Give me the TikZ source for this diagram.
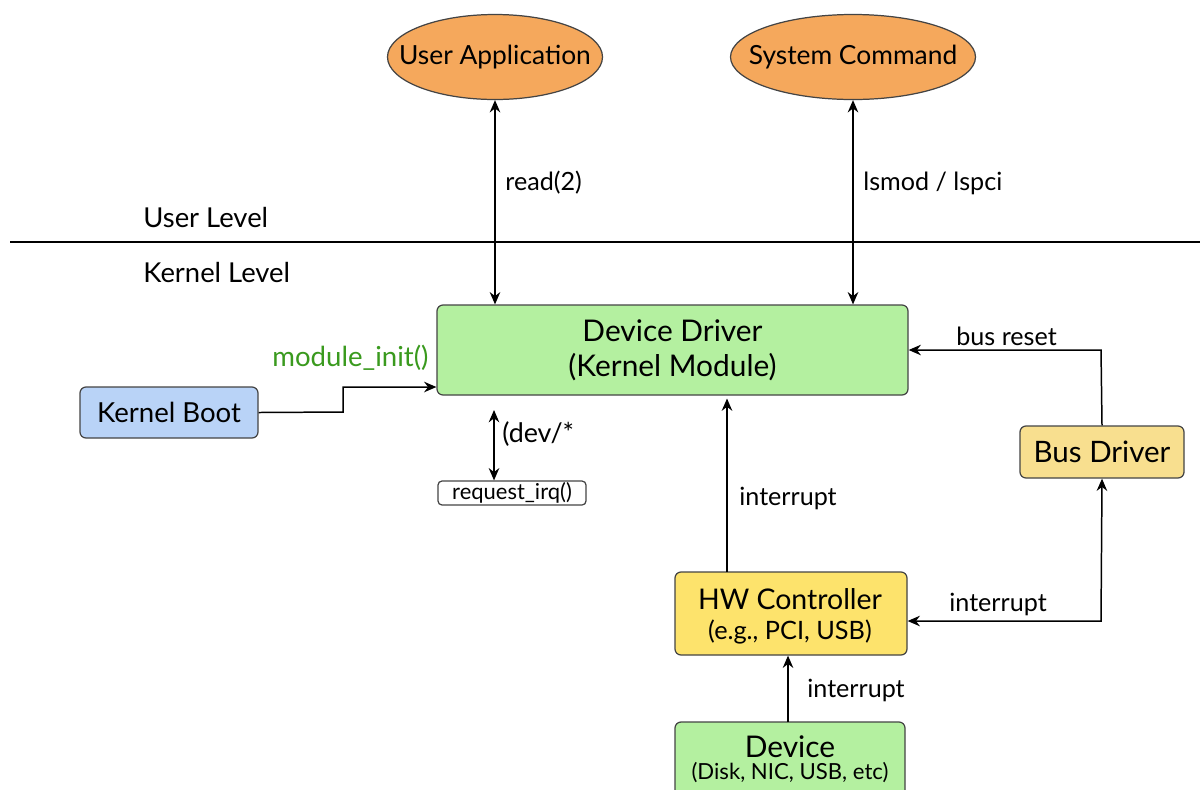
\documentclass[tikz,border=0pt]{standalone}
\usepackage{fontspec}
\setmainfont{Lato}
\usetikzlibrary{arrows.meta,shapes.geometric,calc}
\definecolor{uorange}{HTML}{F5A85C}
\definecolor{dgreen}{HTML}{B4F0A0}
\definecolor{kblue}{HTML}{B9D3F7}
\definecolor{hwyellow}{HTML}{FDE36C}
\definecolor{busyellow}{HTML}{F8DF8F}
\definecolor{initgreen}{HTML}{3A9A1E}
\definecolor{edge}{HTML}{444444}
\tikzset{
  box/.style={draw=edge, line width=0.7pt, rounded corners=0.12cm, align=center, inner sep=0pt},
  oval/.style={ellipse, draw=edge, line width=0.7pt, fill=uorange, inner sep=0pt},
  ovaltext/.style={inner sep=0pt, font=\fontsize{15}{18}\selectfont},
  conn/.style={line width=0.85pt, -{Stealth[length=7pt,width=6pt]}},
  conn2/.style={line width=0.85pt, {Stealth[length=7pt,width=6pt]}-{Stealth[length=7pt,width=6pt]}},
  lbl/.style={font=\fontsize{14.3}{17}\selectfont, inner sep=0pt, anchor=west},
  ctr/.style={inner sep=0pt},
}
\begin{document}
\begin{tikzpicture}
\useasboundingbox (0,0) rectangle (24,-15.78);
\clip (0,0) rectangle (24,-15.78);
\fill[white] (0,0) rectangle (24,-15.78);

% ellipses
\node[oval, minimum width=4.3cm, minimum height=1.7cm] (UA) at (9.9,-1.14) {};
\node[ovaltext] (UAt) at (UA.center) {User Application};
\node[oval, minimum width=4.9cm, minimum height=1.7cm] (SC) at (17.06,-1.14) {};
\node[ovaltext] (SCt) at (SC.center) {System Command};

% level separator
\coordinate (LL) at (0.2,-4.84);
\coordinate (LR) at (24,-4.84);
\draw[line width=0.85pt] (LL) -- (LR);
\node[lbl, font=\fontsize{15.6}{18}\selectfont] (UL) at (2.86,-4.36) {User Level};
\node[lbl, font=\fontsize{15.6}{18}\selectfont] (KL) at (2.86,-5.44) {Kernel Level};

% device driver
\node[box, fill=dgreen, minimum width=9.42cm, minimum height=1.8cm, font=\fontsize{17}{20}\selectfont] (DD) at (13.45,-7.0) {Device Driver\\(Kernel Module)};

% kernel boot
\node[box, fill=kblue, minimum width=3.56cm, minimum height=1.02cm, font=\fontsize{15.7}{18}\selectfont] (KB) at (3.38,-8.25) {Kernel Boot};

% request_irq
\node[box, fill=white, rounded corners=0.08cm, minimum width=2.96cm, minimum height=0.48cm, font=\fontsize{12.5}{14}\selectfont] (RQ) at (10.24,-9.86) {request\_irq()};

% HW controller
\node[box, fill=hwyellow, minimum width=4.64cm, minimum height=1.66cm] (HW) at (15.82,-12.27) {};
\node[ctr, font=\fontsize{16.2}{18}\selectfont] (HWt) at (15.8,-11.98) {HW Controller};
\node[ctr, font=\fontsize{14.4}{16}\selectfont] (HWs) at (15.8,-12.64) {(e.g., PCI, USB)};

% Device
\node[box, fill=dgreen, minimum width=4.6cm, minimum height=2.2cm] (DV) at (15.8,-15.54) {};
\node[ctr, font=\fontsize{17}{19}\selectfont] (DVt) at (15.8,-14.94) {Device};
\node[ctr, font=\fontsize{12.6}{14}\selectfont] (DVs) at (15.8,-15.46) {(Disk, NIC, USB, etc)};

% Bus driver
\node[box, fill=busyellow, minimum width=3.28cm, minimum height=1.04cm, font=\fontsize{16.8}{19}\selectfont] (BD) at (22.04,-9.04) {Bus Driver};

% user arrows
\draw[conn2] (UA.south) -- (UA.south |- DD.north);
\node[lbl] (rd) at (10.1,-3.66) {read(2)};
\draw[conn2] (SC.south) -- (SC.south |- DD.north);
\node[lbl] (ls) at (17.26,-3.66) {lsmod / lspci};

% kernel boot -> DD
\coordinate (kb1) at (6.86,-8.24);
\coordinate (kb2) at (6.86,-7.74);
\draw[conn] (KB.east) -- (kb1) -- (kb2) -- (kb2 -| DD.west);
\node[lbl, text=initgreen, font=\fontsize{15.7}{18}\selectfont] (mi) at (5.44,-7.16) {module\_init()};

% dev arrow
\coordinate (devtop) at (9.88,-8.2);
\draw[conn2] (devtop) -- (devtop |- RQ.north);
\node[lbl, font=\fontsize{15.3}{18}\selectfont] (dv) at (10.04,-8.68) {(dev/*};

% HW -> DD interrupt
\coordinate (hwtop) at (14.54,-11.44);
\coordinate (ddbot) at (14.54,-7.97);
\draw[conn] (hwtop) -- (ddbot);
\node[lbl] (i1) at (14.78,-9.96) {interrupt};

% Device -> HW
\coordinate (dvtop) at (15.76,-14.44);
\draw[conn] (dvtop) -- (dvtop |- HW.south);
\node[lbl] (i2) at (16.14,-13.8) {interrupt};

% Bus driver -> DD
\coordinate (bd1) at (22.02,-7.0);
\draw[conn] (BD.north) -- (bd1) -- (DD.east);
\node[lbl] (br) at (19.12,-6.72) {bus reset};

% HW <-> Bus driver
\coordinate (bd2) at (22.02,-12.42);
\draw[conn2] (bd2 -| HW.east) -- (bd2) -- (BD.south);
\node[lbl] (i3) at (18.98,-12.08) {interrupt};
\end{tikzpicture}
\end{document}
